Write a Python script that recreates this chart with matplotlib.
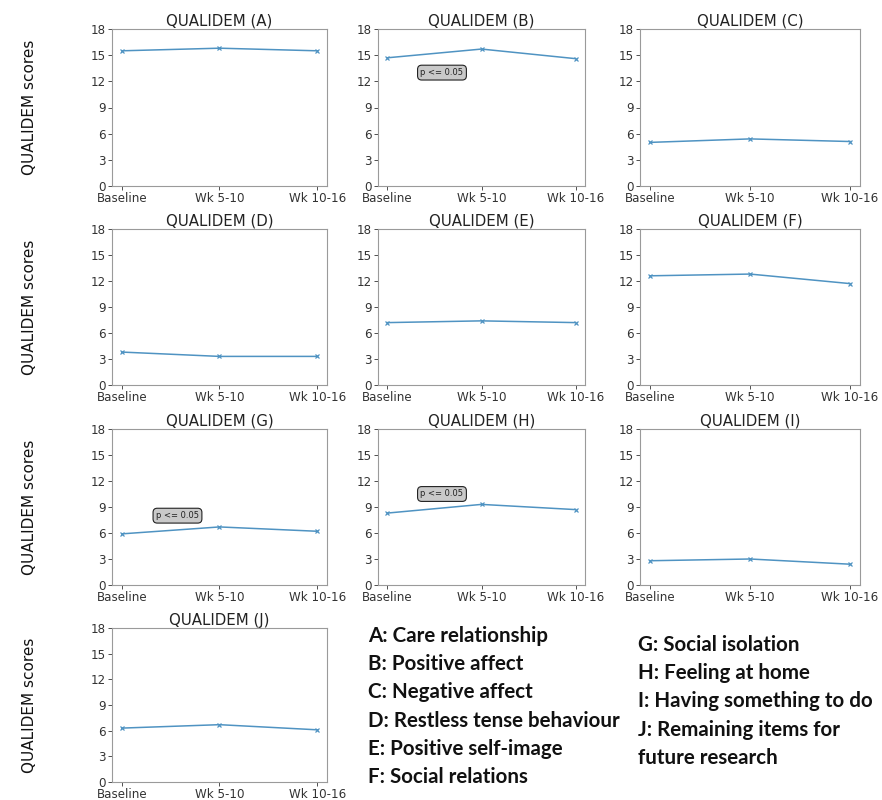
import matplotlib
matplotlib.use("Agg")
import matplotlib.pyplot as plt

timepoints = ["Baseline", "Wk 5-10", "Wk 10-16"]
panel_letters = ["A", "B", "C", "D", "E", "F", "G", "H", "I", "J"]
scores_A = [15.5, 15.8, 15.5]
scores_B = [14.7, 15.7, 14.6]
scores_C = [5.0, 5.4, 5.1]
scores_D = [3.8, 3.3, 3.3]
scores_E = [7.2, 7.4, 7.2]
scores_F = [12.6, 12.8, 11.7]
scores_G = [5.9, 6.7, 6.2]
scores_H = [8.3, 9.3, 8.7]
scores_I = [2.8, 3.0, 2.4]
scores_J = [6.3, 6.7, 6.1]
y_ticks = [0, 3, 6, 9, 12, 15, 18]
sig_label = "p <= 0.05"
sig_panels = {"B": (0.58, 13.0), "G": (0.57, 8.0), "H": (0.58, 10.5)}
legend_left = ["A: Care relationship", "B: Positive affect", "C: Negative affect",
               "D: Restless tense behaviour", "E: Positive self-image", "F: Social relations"]
legend_right = ["G: Social isolation", "H: Feeling at home", "I: Having something to do",
                "J: Remaining items for", "future research"]

all_scores = [scores_A, scores_B, scores_C, scores_D, scores_E,
              scores_F, scores_G, scores_H, scores_I, scores_J]

W, H = 882, 800
fig = plt.figure(figsize=(W / 100, H / 100), dpi=100)

col_lr = [(112, 327), (378, 585), (640, 860)]
row_tb = [(29, 186), (229, 385), (429, 585), (628, 782)]

line_color = "#4f93c2"

for i, (letter, vals) in enumerate(zip(panel_letters, all_scores)):
    r, c = divmod(i, 3)
    l, rgt = col_lr[c]
    t, b = row_tb[r]
    ax = fig.add_axes([l / W, 1 - b / H, (rgt - l) / W, (b - t) / H])
    ax.plot(range(len(timepoints)), vals, color=line_color, lw=1.1,
            marker="x", ms=3.5, mew=0.9)
    ax.set_ylim(0, 18)
    ax.set_yticks(y_ticks)
    ax.set_xticks(range(len(timepoints)))
    ax.set_xticklabels(timepoints)
    ax.tick_params(labelsize=8.6, colors="#333333", length=3, width=0.6, pad=1.2)
    for s in ax.spines.values():
        s.set_color("#9a9a9a")
        s.set_linewidth(0.8)
    ax.set_title(f"QUALIDEM ({letter})", fontsize=10.8, color="#222222", pad=2)
    if letter in sig_panels:
        x, y = sig_panels[letter]
        ax.text(x, y, sig_label, fontsize=6, ha="center", va="center", color="#222222",
                bbox=dict(boxstyle="round,pad=0.35,rounding_size=0.5", fc="#c9c9c9",
                          ec="#222222", lw=0.8))
    if c == 0:
        fig.text(30 / W, 1 - ((t + b) / 2) / H, "QUALIDEM scores", rotation=90,
                 ha="center", va="center", fontsize=11, color="#111111")

leg_font = dict(fontsize=14.8, fontweight="bold", family="Lato", color="#111111")
for k, txt in enumerate(legend_left):
    fig.text(368 / W, 1 - (636 + 28.2 * k) / H, txt, ha="left", va="center", **leg_font)
for k, txt in enumerate(legend_right):
    fig.text(638 / W, 1 - (645 + 28.2 * k) / H, txt, ha="left", va="center", **leg_font)

fig.savefig("out.png", dpi=100, facecolor="white")
